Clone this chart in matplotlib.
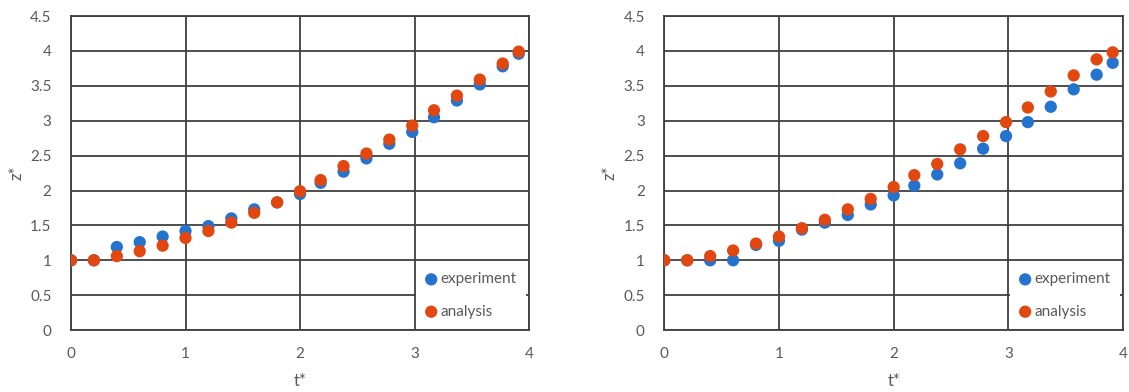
import matplotlib
matplotlib.use("Agg")
import matplotlib.pyplot as plt

plt.rcParams['font.family'] = ['Lato', 'DejaVu Sans']

# dimensionless time (same for both panels)
t_vals = [0, 0.2, 0.4, 0.6, 0.8, 1.0, 1.2, 1.4, 1.6, 1.8, 2.0,
          2.18, 2.38, 2.58, 2.78, 2.98, 3.17, 3.37, 3.57, 3.77, 3.91]

# left panel
exp_left = [1.0, 1.0, 1.19, 1.26, 1.34, 1.42, 1.49, 1.6, 1.73, 1.83, 1.95,
            2.11, 2.27, 2.46, 2.67, 2.84, 3.05, 3.29, 3.52, 3.78, 3.96]
ana_left = [1.0, 1.0, 1.06, 1.13, 1.21, 1.32, 1.42, 1.54, 1.68, 1.83, 1.99,
            2.15, 2.35, 2.53, 2.73, 2.93, 3.15, 3.36, 3.59, 3.82, 3.99]

# right panel
exp_right = [1.0, 1.0, 1.0, 1.0, 1.22, 1.28, 1.44, 1.54, 1.65, 1.8, 1.93,
             2.07, 2.23, 2.39, 2.6, 2.78, 2.98, 3.2, 3.45, 3.66, 3.83]
ana_right = [1.0, 1.0, 1.06, 1.14, 1.24, 1.34, 1.46, 1.58, 1.73, 1.88, 2.05,
             2.22, 2.38, 2.59, 2.78, 2.98, 3.19, 3.42, 3.65, 3.88, 3.98]

x_ticks = [0, 1, 2, 3, 4]
y_ticks = [0, 0.5, 1, 1.5, 2, 2.5, 3, 3.5, 4, 4.5]
y_labels = ['0', '0.5', '1', '1.5', '2', '2.5', '3', '3.5', '4', '4.5']

blue = '#2473cf'
orange = '#e2470f'
grid_col = '#404040'
txt_col = '#595959'

fig = plt.figure(figsize=(11.29, 3.92), dpi=100)
ax1 = fig.add_axes([0.0629, 0.158, 0.4057, 0.801])
ax2 = fig.add_axes([0.5884, 0.158, 0.4063, 0.801])


def draw_panel(ax, exp, ana):
    ax.scatter(t_vals, exp, s=78, color=blue, edgecolors='none', zorder=3, label='experiment')
    ax.scatter(t_vals, ana, s=78, color=orange, edgecolors='none', zorder=4, label='analysis')
    ax.set_xlim(0, 4)
    ax.set_ylim(0, 4.5)
    ax.set_xticks(x_ticks)
    ax.set_yticks(y_ticks)
    ax.set_yticklabels(y_labels)
    ax.grid(True, color=grid_col, lw=1.3)
    ax.set_axisbelow(True)
    for sp in ax.spines.values():
        sp.set_color(grid_col)
        sp.set_linewidth(1.3)
    ax.tick_params(length=0, pad=12, labelsize=11, labelcolor=txt_col)
    ax.tick_params(axis='y', pad=14)
    ax.set_xlabel('t*', fontsize=12, color=txt_col, labelpad=9)
    ax.set_ylabel('z*', fontsize=12, color=txt_col, labelpad=4)
    leg = ax.legend(loc='lower right', bbox_to_anchor=(0.993, 0.006), frameon=True,
                    fancybox=False, framealpha=1, edgecolor='none', facecolor='white',
                    handletextpad=0.2, handlelength=0.8, labelspacing=1.2,
                    borderpad=0.62, borderaxespad=0, fontsize=11, markerscale=1.0)
    for t in leg.get_texts():
        t.set_color(txt_col)


draw_panel(ax1, exp_left, ana_left)
draw_panel(ax2, exp_right, ana_right)

fig.savefig('out.png', dpi=100, facecolor='white')
